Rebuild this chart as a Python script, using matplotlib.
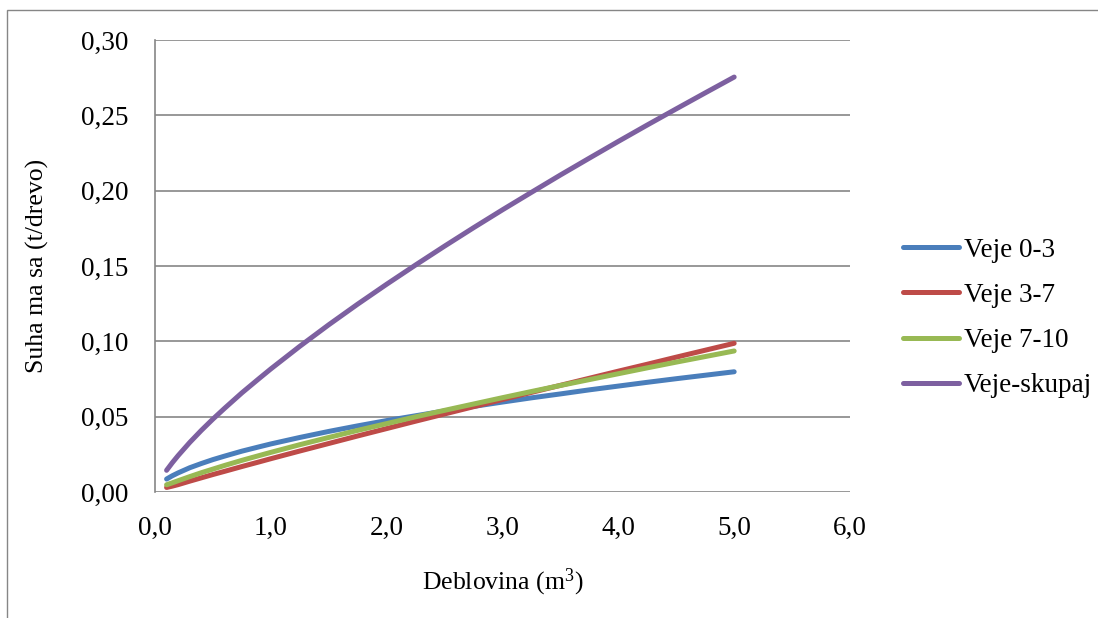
import matplotlib
matplotlib.use('Agg')
import matplotlib.pyplot as plt
from matplotlib.patches import Rectangle

plt.rcParams['font.family'] = ['Liberation Serif', 'DejaVu Serif']
plt.rcParams['mathtext.fontset'] = 'custom'
plt.rcParams['mathtext.rm'] = 'Liberation Serif'
plt.rcParams['mathtext.it'] = 'Liberation Serif:italic'

# deblovina (m3) and dry mass of branches (t/tree)
deblovina = [0.1, 0.15, 0.2, 0.3, 0.4, 0.5, 0.6, 0.75, 0.9, 1.0, 1.25, 1.5, 1.75,
             2.0, 2.25, 2.5, 2.75, 3.0, 3.25, 3.5, 3.75, 4.0, 4.25, 4.5, 4.75, 5.0]
veje_0_3 = [0.0086, 0.0108, 0.0127, 0.0161, 0.0189, 0.0215, 0.0238, 0.0271,
            0.0300, 0.0319, 0.0362, 0.0402, 0.0439, 0.0474, 0.0506, 0.0538,
            0.0568, 0.0597, 0.0625, 0.0651, 0.0678, 0.0703, 0.0728, 0.0752,
            0.0775, 0.0798]
veje_3_7 = [0.0030, 0.0039, 0.0049, 0.0072, 0.0094, 0.0116, 0.0137, 0.0169,
            0.0200, 0.0221, 0.0272, 0.0322, 0.0372, 0.0421, 0.0470, 0.0518,
            0.0566, 0.0614, 0.0661, 0.0708, 0.0755, 0.0802, 0.0848, 0.0895,
            0.0941, 0.0987]
veje_7_10 = [0.0048, 0.0061, 0.0075, 0.0102, 0.0128, 0.0152, 0.0176, 0.0210,
             0.0242, 0.0263, 0.0314, 0.0362, 0.0409, 0.0454, 0.0499, 0.0542,
             0.0584, 0.0626, 0.0667, 0.0707, 0.0746, 0.0785, 0.0824, 0.0862,
             0.0899, 0.0936]
veje_skupaj = [0.0144, 0.0195, 0.0242, 0.0329, 0.0409, 0.0484, 0.0555, 0.0658,
               0.0754, 0.0817, 0.0967, 0.1110, 0.1247, 0.1379, 0.1507, 0.1632,
               0.1754, 0.1873, 0.1989, 0.2104, 0.2216, 0.2327, 0.2436, 0.2543,
               0.2649, 0.2754]

series = [
    ('Veje 0-3', veje_0_3, '#4A7EBB'),
    ('Veje 3-7', veje_3_7, '#BE4B48'),
    ('Veje 7-10', veje_7_10, '#98B954'),
    ('Veje-skupaj', veje_skupaj, '#7D60A0'),
]

x_ticks = [0, 1, 2, 3, 4, 5, 6]
y_ticks = [0.0, 0.05, 0.10, 0.15, 0.20, 0.25, 0.30]

W, H = 1098, 618
fig = plt.figure(figsize=(W / 100, H / 100), dpi=100)
fig.patch.set_facecolor('white')

# outer chart frame
fig.patches.append(Rectangle((7 / W, -0.1), 1.2, 1.1 - 10 / H,
                             transform=fig.transFigure, fill=False,
                             edgecolor='#868686', lw=1.0))

ax = fig.add_axes([155 / W, 1 - 492 / H, 695 / W, 452 / H])

for name, vals, col in series:
    ax.plot(deblovina, vals, color=col, lw=3.6, label=name,
            solid_capstyle='round', solid_joinstyle='round')

ax.set_xlim(0, 6)
ax.set_ylim(0, 0.30)
ax.set_xticks(x_ticks)
ax.set_yticks(y_ticks)
ax.set_xticklabels([f'{v:.1f}'.replace('.', ',') for v in x_ticks])
ax.set_yticklabels([f'{v:.2f}'.replace('.', ',') for v in y_ticks])
ax.tick_params(axis='both', length=0, labelsize=19.5, colors='black')
ax.tick_params(axis='x', pad=17)
ax.tick_params(axis='y', pad=19)

ax.grid(axis='y', color='#868686', lw=1.2)
ax.set_axisbelow(True)
for s in ['top', 'right', 'bottom']:
    ax.spines[s].set_visible(False)
ax.spines['left'].set_color('#868686')
ax.spines['left'].set_linewidth(1.2)

ax.set_xlabel('Deblovina (m$^{3}$)', fontsize=18.5)
ax.xaxis.set_label_coords(0.5, (492 - 582) / 452)
ax.xaxis.label.set_va('center')
ax.set_ylabel('Suha ma sa (t/drevo)', fontsize=18.5)
ax.yaxis.set_label_coords((37 - 155) / 695, 0.5)
ax.yaxis.label.set_va('center')

ax.legend(loc='center left', bbox_to_anchor=(903 / W, 1 - 318 / H),
          bbox_transform=fig.transFigure, frameon=False, fontsize=19.5,
          handlelength=2.05, handletextpad=0.2, labelspacing=0.75,
          borderpad=0, borderaxespad=0)

fig.savefig('out.png', dpi=100)
